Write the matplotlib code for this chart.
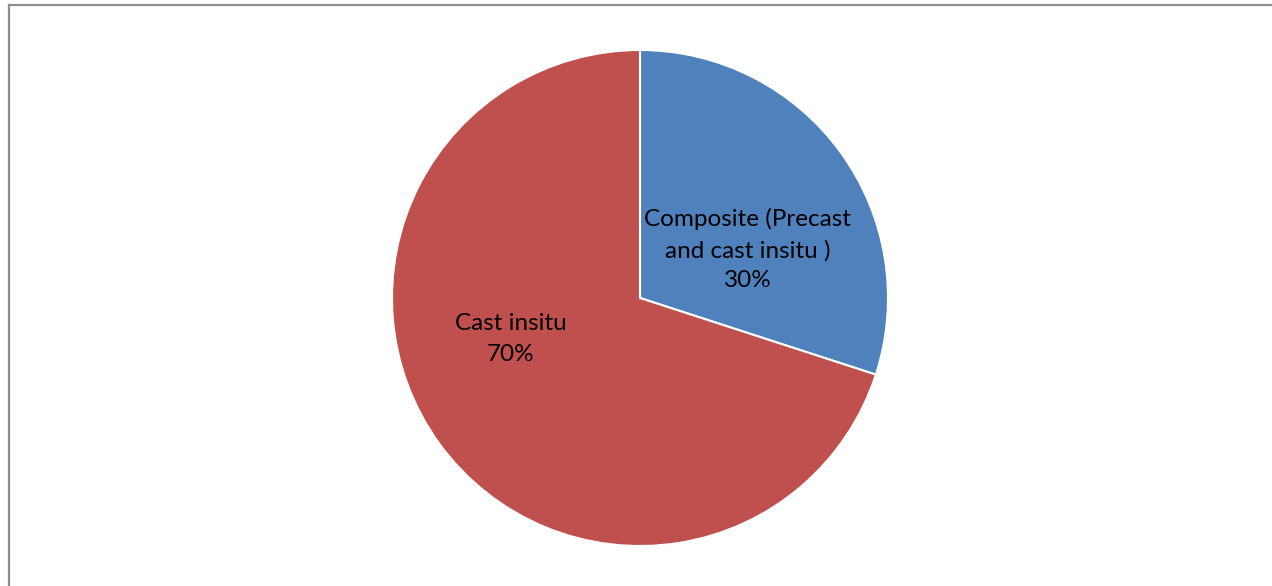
import matplotlib.pyplot as plt
from matplotlib.lines import Line2D

labels = ['Composite (Precast\nand cast insitu )', 'Cast insitu']
shares = [30, 70]
colors = ['#4F81BD', '#C0504D']
label_pos = [(0.435, 0.195), (-0.52, -0.165)]

W, H = 1272, 586
fig = plt.figure(figsize=(W / 100, H / 100), dpi=100)
plt.rcParams['font.family'] = ['Lato', 'DejaVu Sans']

# frame lines (top and left, like the cropped original)
fig.add_artist(Line2D([9 / W, 1], [1 - 5 / H, 1 - 5 / H], color='#8c8c8c', lw=1.6))
fig.add_artist(Line2D([9 / W, 9 / W], [0, 1 - 5 / H], color='#8c8c8c', lw=1.6))

cx, cy, r = 640, H - 298, 249
ax = fig.add_axes([(cx - r) / W, (cy - r) / H, 2 * r / W, 2 * r / H])
ax.pie(shares, colors=colors, startangle=90, counterclock=False, radius=1,
       wedgeprops=dict(edgecolor='white', linewidth=1.5))
ax.set_xlim(-1.004, 1.004)
ax.set_ylim(-1.004, 1.004)
ax.set_aspect('equal')
ax.axis('off')

for lab, s, (x, y) in zip(labels, shares, label_pos):
    ax.text(x, y, f'{lab}\n{s}%', ha='center', va='center', fontsize=17.5,
            color='black', linespacing=1.55)

fig.savefig('out.png', dpi=100, facecolor='white')
